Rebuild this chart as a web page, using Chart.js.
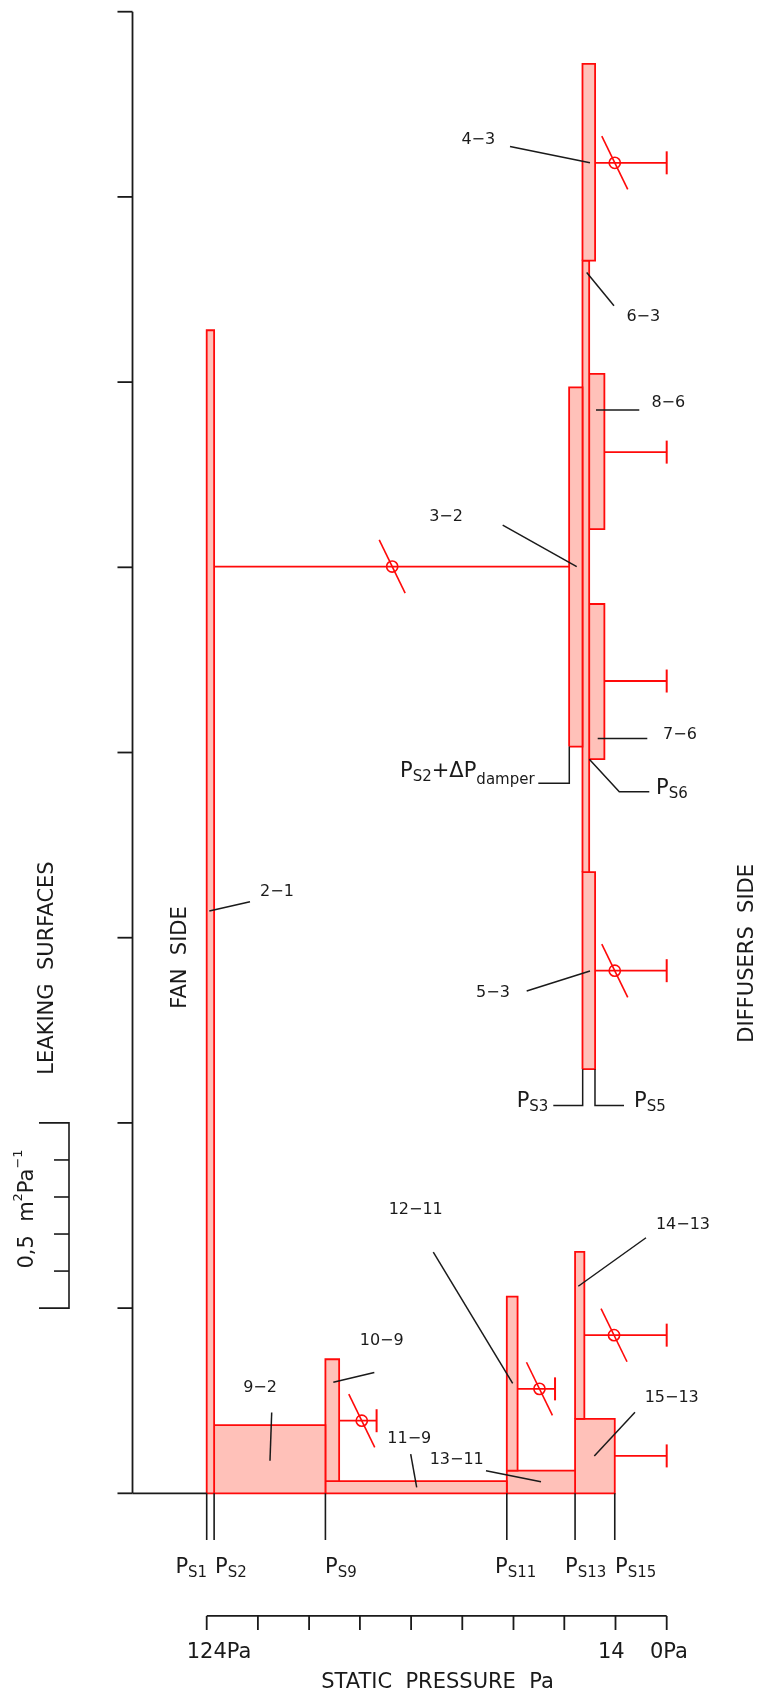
<!DOCTYPE html>
<html><head><meta charset="utf-8">
<script src="https://cdn.jsdelivr.net/npm/chart.js@4.4.1/dist/chart.umd.min.js"></script>
<style>html,body{margin:0;padding:0;background:#fff;}canvas{display:block;}</style>
</head><body>
<canvas id="c" width="763" height="1694"></canvas>
<script>
// ---------- DATA ----------
// static pressures at nodes (Pa)
const psNames  = ['1','2','9','11','13','15'];
const psValues = [124, 122, 92, 43.1, 24.7, 14];

// duct sections: pressure span (Pa) and leaking-surface span (m2/Pa)
const sectionNames = ['2-1','9-2','10-9','11-9','12-11','13-11','14-13','15-13','3-2','4-3','6-3','5-3','8-6','7-6'];
const sectionPFrom = [124, 122, 92,   92,  43.1, 43.1, 24.7, 24.7, 26.3, 22.7, 22.7, 22.7, 20.9, 20.9];
const sectionPTo   = [122, 92,  88.3, 43.1,40.2, 24.7, 22.2, 14,   22.7, 19.3, 20.9, 19.3, 16.8, 16.8];
const sectionSLow  = [0,   0,   0.033,0,   0.061,0,    0.201,0,    2.016,3.328,1.677,1.145,2.603,1.982];
const sectionSHigh = [3.14,0.184,0.362,0.033,0.531,0.061,0.652,0.201,2.986,3.859,3.328,1.677,3.022,2.401];

// outlets to diffusers (Pa from -> to) and their level
const outletNames = ['4-3','8-6','7-6','5-3','10-9','12-11','14-13','15-13'];
const outletPFrom = [19.3, 16.8, 16.8, 19.3, 88.3, 40.2, 22.2, 14];
const outletPTo   = [0,    0,    0,    0,    78.2, 30.1, 0,    0];
const outletLevel = [3.592,2.811,2.193,1.411,0.196,0.282,0.427,0.101];

// link 2 -> 3 (through damper)
const linkPFrom = 122, linkPTo = 26.3, linkLevel = 2.502;

// dampers (Pa, level)
const damperP     = [74,    14,    14,    82.2,  34.3,  14.2];
const damperLevel = [2.502, 3.592, 1.411, 0.196, 0.282, 0.427];

// axes ticks
const surfaceTicks  = [0,0.5,1,1.5,2,2.5,3,3.5,4];
const pressureTicks = [124,110.2,96.4,82.7,68.9,55.1,41.3,27.6,13.8,0];
const pressureTickLabels = ['124Pa','14','0Pa'];
const scaleBarMinor = [0.6,0.7,0.8,0.9];

// ---------- LAYOUT (data units) ----------
const X_MIN=-25.96, X_MAX=179.72, Y_MIN=-0.5418, Y_MAX=4.0316;
const axisP=144.0, axisTickP=148.05;
const barP=161.12, barTickP=169.21, barMinorP=165.16;
const pAxisV=-0.331, pTickV=-0.369, psLineV=-0.126;

const leaders = [
 [[123.3,1.572],[112.33,1.597]],
 [[42.24,3.636],[20.68,3.592]],
 [[21.57,3.296],[14.21,3.206]],
 [[19.06,2.925],[7.39,2.925]],
 [[44.21,2.614],[24.26,2.502]],
 [[18.60,2.038],[5.23,2.038]],
 [[37.74,1.356],[20.68,1.410]],
 [[106.48,0.218],[106.94,0.088]],
 [[78.82,0.326],[89.87,0.300]],
 [[69.01,0.106],[67.39,0.016]],
 [[48.71,0.061],[33.89,0.031]],
 [[62.92,0.651],[41.52,0.297]],
 [[5.58,0.690],[23.83,0.559]],
 [[8.55,0.219],[19.52,0.101]],
 [[26.26,2.016],[26.26,1.917],[34.61,1.917]],
 [[20.86,1.982],[12.78,1.894],[4.69,1.894]],
 [[22.65,1.145],[22.65,1.047],[30.57,1.047]],
 [[19.33,1.145],[19.33,1.047],[11.51,1.047]]
];
const segLabelPos = {
 '2-1':[105.05,1.624],'4-3':[50.79,3.654],'6-3':[6.31,3.177],'8-6':[-0.43,2.943],
 '3-2':[59.49,2.637],'7-6':[-3.58,2.047],'5-3':[46.83,1.350],'9-2':[109.63,0.284],
 '10-9':[76.83,0.412],'11-9':[69.39,0.146],'13-11':[56.61,0.090],'12-11':[67.66,0.765],
 '14-13':[-4.39,0.724],'15-13':[-1.35,0.257]
};
const psLabelP = [132.44,121.76,92.11,46.29,27.42,13.94];
const psLabelV = -0.2151;
const pTickLabelP = [129.39,18.52,4.50];
const pTickLabelV = -0.4446;

const RED='#ff0a0a', PINK='#ffc1b9', INK='#1a1a1a';
const FONT='"DejaVu Sans", sans-serif';

// ---------- DATASETS ----------
const datasets=[];
function poly(pts,opt){
  datasets.push(Object.assign({type:'line',data:pts.map(p=>({x:p[0],y:p[1]})),borderColor:INK,borderWidth:1.6,
    pointRadius:0,pointHitRadius:0,fill:false,tension:0,order:1,clip:false},opt));
}
sectionNames.forEach((n,i)=>{
  const a=sectionPFrom[i], b=sectionPTo[i], lo=sectionSLow[i], hi=sectionSHigh[i];
  poly([[a,lo],[b,lo],[b,hi],[a,hi],[a,lo]],{borderColor:RED,backgroundColor:PINK,fill:'shape',borderWidth:1.8,order:5});
});
outletNames.forEach((n,i)=>{
  poly([[outletPFrom[i],outletLevel[i]],[outletPTo[i],outletLevel[i]]],{borderColor:RED,borderWidth:1.8,order:3});
});
poly([[linkPFrom,linkLevel],[linkPTo,linkLevel]],{borderColor:RED,borderWidth:1.8,order:3});
// outlet end caps
datasets.push({type:'scatter',data:outletNames.map((n,i)=>({x:outletPTo[i],y:outletLevel[i]})),showLine:false,
  pointStyle:'line',pointRotation:90,pointRadius:11.5,pointBorderColor:RED,pointBorderWidth:2,pointHitRadius:0,order:2,clip:false});
// dampers: circle + blade
datasets.push({type:'scatter',data:damperP.map((p,i)=>({x:p,y:damperLevel[i]})),showLine:false,
  pointStyle:'circle',pointRadius:5.6,pointBackgroundColor:'rgba(0,0,0,0)',pointBorderColor:RED,pointBorderWidth:1.6,pointHitRadius:0,order:2,clip:false});
datasets.push({type:'scatter',data:damperP.map((p,i)=>({x:p,y:damperLevel[i]})),showLine:false,
  pointStyle:'line',pointRotation:64,pointRadius:29.6,pointBorderColor:RED,pointBorderWidth:1.6,pointHitRadius:0,order:2,clip:false});
// leaders
leaders.forEach(l=>poly(l,{borderWidth:1.5}));
// left surface axis
poly([[axisP,surfaceTicks[surfaceTicks.length-1]],[axisP,0]],{borderWidth:1.8});
surfaceTicks.forEach(t=>poly([[axisTickP,t],[axisP,t]],{borderWidth:1.8}));
poly([[axisP,0],[psValues[0],0]],{borderWidth:1.8});
// scale bar 0.5 m2/Pa
poly([[barTickP,1.0],[barP,1.0],[barP,0.5],[barTickP,0.5]],{borderWidth:1.6});
scaleBarMinor.forEach(t=>poly([[barMinorP,t],[barP,t]],{borderWidth:1.6}));
// static-pressure node lines
psValues.forEach(p=>poly([[p,0],[p,psLineV]],{borderWidth:1.6}));
// pressure axis
poly([[pressureTicks[0],pAxisV],[pressureTicks[pressureTicks.length-1],pAxisV]],{borderWidth:1.8});
pressureTicks.forEach(t=>poly([[t,pAxisV],[t,pTickV]],{borderWidth:1.8}));

// ---------- TEXT ----------
function rich(ctx,x,y,runs,align,rot,baseline){
  ctx.save(); ctx.translate(x,y); if(rot) ctx.rotate(rot);
  ctx.textBaseline=baseline||'alphabetic'; ctx.fillStyle=INK; ctx.textAlign='left';
  const w=runs.map(r=>{ctx.font=r[1]+'px '+FONT; return ctx.measureText(r[0]).width;});
  const tot=w.reduce((a,b)=>a+b,0);
  let cx = align==='center'?-tot/2:(align==='right'?-tot:0);
  runs.forEach((r,i)=>{ctx.font=r[1]+'px '+FONT; ctx.fillText(r[0],cx,r[2]||0); cx+=w[i];});
  ctx.restore();
}
const textPlugin={id:'txt',afterDatasetsDraw(chart){
  const ctx=chart.ctx, X=v=>chart.scales.x.getPixelForValue(v), Y=v=>chart.scales.y.getPixelForValue(v);
  Object.keys(segLabelPos).forEach(k=>{
    const p=segLabelPos[k];
    rich(ctx,X(p[0]),Y(p[1]),[[k.replace('-','\u2212'),16]],'center',0,'middle');
  });
  psNames.forEach((n,i)=>rich(ctx,X(psLabelP[i]),Y(psLabelV),[['P',21],['S'+n,15,4]],'left'));
  rich(ctx,X(71.89),Y(1.9347),[['P',21],['S2',15,4],['+\u0394P',21],['damper',15,7]],'left');
  rich(ctx,X(2.88),Y(1.888),[['P',21],['S6',15,4]],'left');
  rich(ctx,X(40.44),Y(1.0438),[['P',21],['S3',15,4]],'left');
  rich(ctx,X(8.82),Y(1.043),[['P',21],['S5',15,4]],'left');
  pressureTickLabels.forEach((t,i)=>rich(ctx,X(pTickLabelP[i]),Y(pTickLabelV),[[t,21]],'left'));
  rich(ctx,X(61.79),Y(-0.5256),[['STATIC  PRESSURE  Pa',21]],'center');
  rich(ctx,X(166.86),Y(1.4182),[['LEAKING  SURFACES',21]],'center',-Math.PI/2,'middle');
  rich(ctx,X(131.06),Y(1.4466),[['FAN  SIDE',21]],'center',-Math.PI/2,'middle');
  rich(ctx,X(-21.91),Y(1.4579),[['DIFFUSERS  SIDE',21]],'center',-Math.PI/2,'middle');
  rich(ctx,X(172.31),Y(0.7676),[['0,5  m',21],['2',13,-9],['Pa',21],['\u22121',13,-9]],'center',-Math.PI/2,'middle');
}};

new Chart(document.getElementById('c'),{
  type:'line',
  data:{datasets},
  options:{responsive:false,animation:false,events:[],
    layout:{padding:0,autoPadding:false},
    plugins:{legend:{display:false},tooltip:{enabled:false}},
    scales:{
      x:{type:'linear',display:false,reverse:true,min:X_MIN,max:X_MAX},
      y:{type:'linear',display:false,min:Y_MIN,max:Y_MAX}
    }},
  plugins:[textPlugin]
});
</script>
</body></html>
